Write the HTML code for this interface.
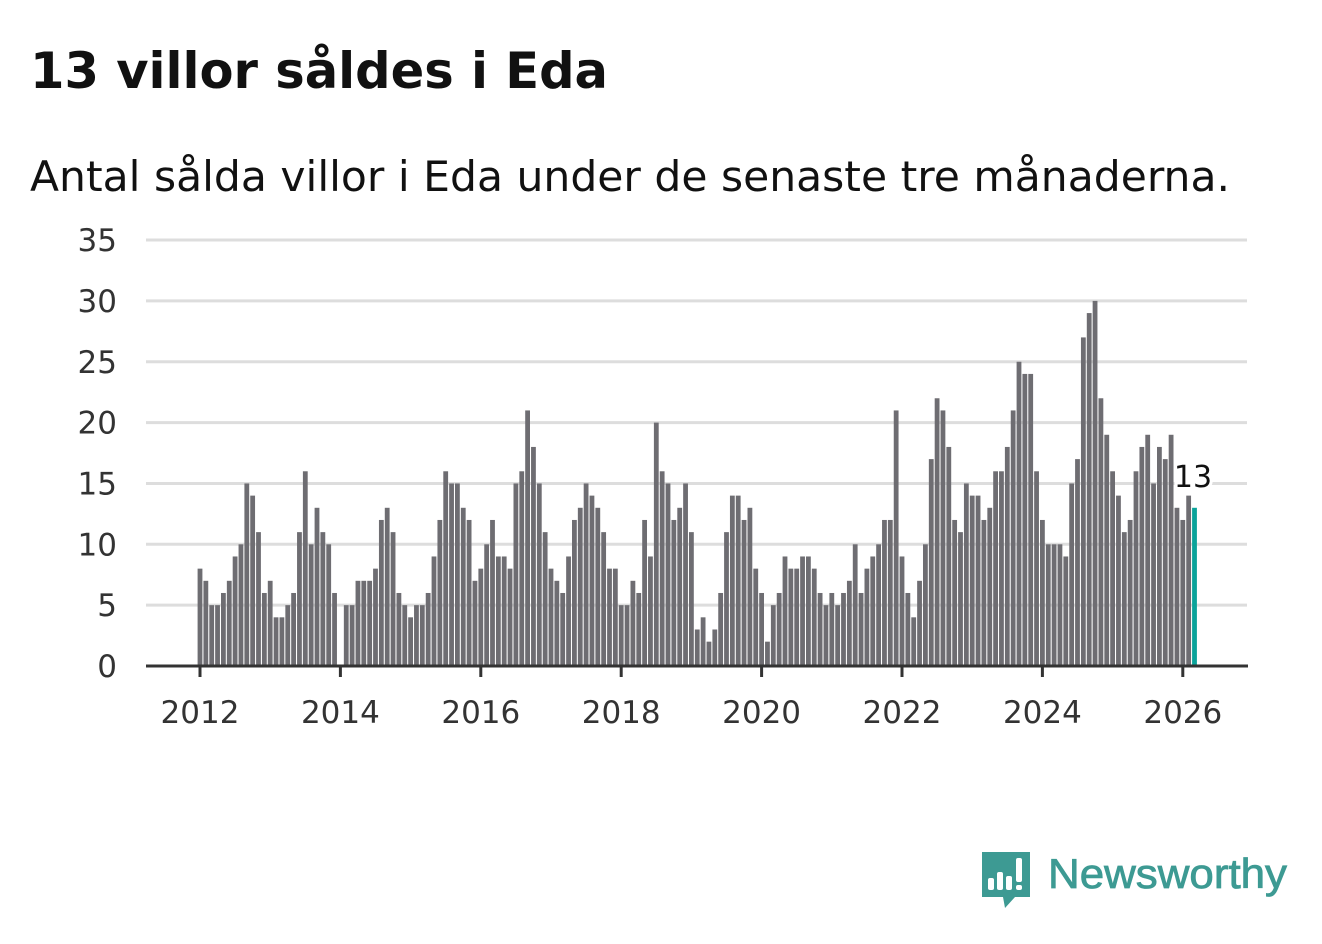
<!DOCTYPE html>
<html><head><meta charset="utf-8"><style>
body{margin:0;background:#fff;width:1322px;height:939px;overflow:hidden;font-family:"Liberation Sans","DejaVu Sans",sans-serif}
</style></head><body>
<svg id="s" width="1322" height="939" xmlns="http://www.w3.org/2000/svg" font-family="'DejaVu Sans','Liberation Sans',sans-serif">
<text x="30" y="88" font-size="50" font-weight="bold" fill="#111" textLength="578" lengthAdjust="spacingAndGlyphs">13 villor såldes i Eda</text>
<text x="30" y="191" font-size="42" fill="#111" textLength="1200" lengthAdjust="spacingAndGlyphs">Antal sålda villor i Eda under de senaste tre månaderna.</text>
<g id="grid" stroke="#ddd" stroke-width="3"></g>
<g id="yl" font-size="31" fill="#333" text-anchor="end"></g>
<g id="bars"></g>
<line x1="146" y1="666" x2="1248" y2="666" stroke="#333" stroke-width="3"/>
<g id="xt" font-size="31" fill="#333" text-anchor="middle"></g>
<text x="1193" y="487" font-size="30" fill="#111" text-anchor="middle" stroke="#fff" stroke-width="6" paint-order="stroke">13</text>
<g>
<path d="M982 852h48v45h-15l-10 11l-2-11h-21z" fill="#3d9a93"/>
<rect x="988" y="878" width="6" height="12" rx="2" fill="#fff"/>
<rect x="997" y="872" width="6" height="18" rx="2" fill="#fff"/>
<rect x="1006" y="876" width="6" height="14" rx="2" fill="#fff"/>
<rect x="1016" y="858" width="6" height="24" rx="2" fill="#fff"/>
<rect x="1016" y="885" width="6" height="5" rx="2" fill="#fff"/>
</g>
<text x="1048" y="888" font-size="42" fill="#3d9a93" stroke="#3d9a93" stroke-width="0.8" font-family="'Liberation Sans',sans-serif" textLength="239" lengthAdjust="spacingAndGlyphs">Newsworthy</text>
</svg>
<script>
var v=[8,7,5,5,6,7,9,10,15,14,11,6, 7,4,4,5,6,11,16,10,13,11,10,6, 0,5,5,7,7,7,8,12,13,11,6,5, 4,5,5,6,9,12,16,15,15,13,12,7, 8,10,12,9,9,8,15,16,21,18,15,11, 8,7,6,9,12,13,15,14,13,11,8,8, 5,5,7,6,12,9,20,16,15,12,13,15, 11,3,4,2,3,6,11,14,14,12,13,8, 6,2,5,6,9,8,8,9,9,8,6,5, 6,5,6,7,10,6,8,9,10,12,12,21, 9,6,4,7,10,17,22,21,18,12,11,15, 14,14,12,13,16,16,18,21,25,24,24,16, 12,10,10,10,9,15,17,27,29,30,22,19, 16,14,11,12,16,18,19,15,18,17,19,13, 12,14,13];
var ns="http://www.w3.org/2000/svg",u=12.17;
function el(t,a,p,tx){var e=document.createElementNS(ns,t);for(var k in a)e.setAttribute(k,a[k]);if(tx!=null)e.textContent=tx;document.getElementById(p).appendChild(e);}
for(var i=0;i<=7;i++){var y=666-i*5*u;if(i>0)el("line",{x1:146,x2:1247,y1:y,y2:y},"grid");el("text",{x:117,y:y+11},"yl",String(i*5));}
for(var i=0;i<v.length;i++){var h=v[i]*u,x=200+i*5.85-2.4;el("rect",{x:x,y:666-h,width:4.8,height:h,fill:i==v.length-1?"#0aa39a":"#6e6d72"},"bars");}
for(var yr=2012;yr<=2026;yr+=2){var x=200+(yr-2012)*70.2;el("line",{x1:x,x2:x,y1:666,y2:677,stroke:"#333","stroke-width":3},"xt");el("text",{x:x,y:723},"xt",String(yr));}
</script>
</body></html>
